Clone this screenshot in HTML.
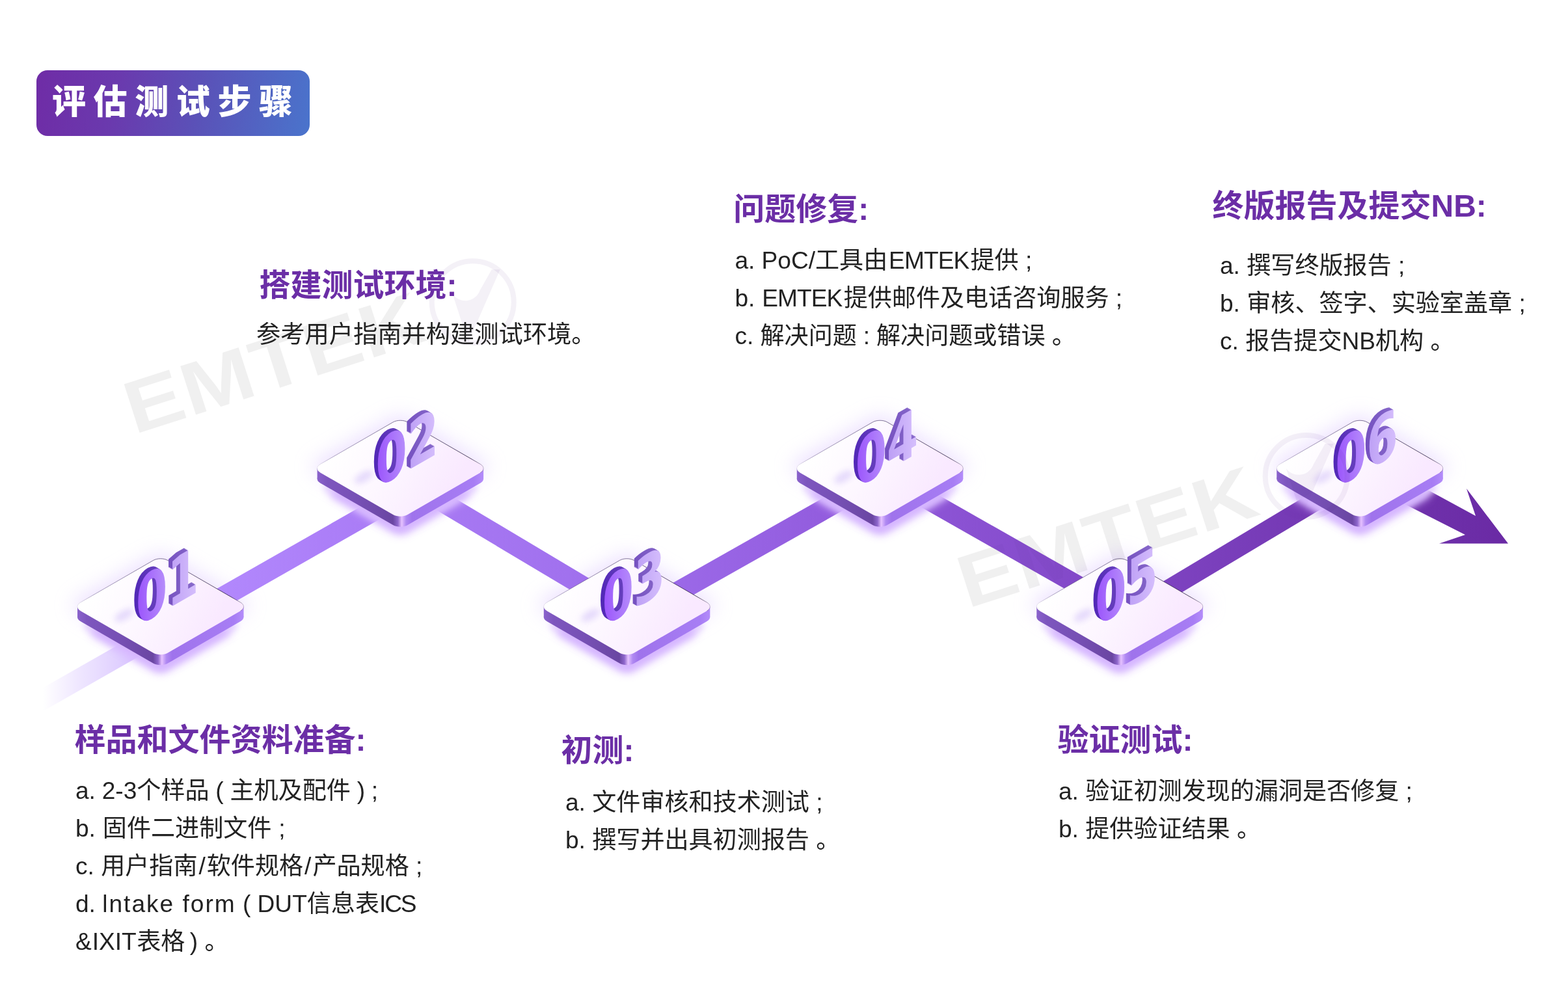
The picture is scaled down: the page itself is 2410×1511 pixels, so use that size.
<!DOCTYPE html>
<html lang="zh-CN"><head><meta charset="utf-8"><title>评估测试步骤</title>
<style>
html,body{margin:0;padding:0;background:#fff;}
body{width:2410px;height:1511px;position:relative;overflow:hidden;font-family:"Liberation Sans", "Noto Sans CJK SC", sans-serif;color:#222;}
.badge{position:absolute;left:56px;top:108px;width:420px;height:101px;border-radius:17px;
 background:linear-gradient(100deg,#6f2ca6 0%,#6a3aae 30%,#5a52b8 60%,#4a74cc 100%);}
.badge span{position:absolute;left:24px;top:-1.5px;line-height:101px;font-size:52px;font-weight:900;color:#fff;letter-spacing:11.6px;white-space:nowrap;}
.h{position:absolute;font-size:48px;line-height:48px;font-weight:700;color:#6b2ea6;white-space:nowrap;}
.t{position:absolute;font-size:37.1px;line-height:37.1px;color:#222;white-space:nowrap;}
.wm{position:absolute;font-family:"Liberation Sans",sans-serif;font-weight:700;font-size:111px;line-height:111px;letter-spacing:3px;color:rgba(90,90,110,0.085);white-space:nowrap;transform-origin:0 100%;transform:rotate(-17deg);}
.wmc{position:absolute;width:112px;height:112px;border-radius:50%;border:11px solid rgba(120,90,170,0.07);}
</style></head>
<body>
<svg width="2410" height="1511" viewBox="0 0 2410 1511" style="position:absolute;left:0;top:0">
<defs>
<linearGradient id="gTail" gradientUnits="userSpaceOnUse" x1="66" y1="0" x2="250" y2="0">
 <stop offset="0" stop-color="#c9adff" stop-opacity="0"/><stop offset="0.3" stop-color="#c9adff" stop-opacity="0.3"/><stop offset="1" stop-color="#bb98ff" stop-opacity="0.75"/>
</linearGradient>
<linearGradient id="gBand" gradientUnits="userSpaceOnUse" x1="250" y1="0" x2="2320" y2="0">
 <stop offset="0" stop-color="#b58dff"/>
 <stop offset="0.12" stop-color="#ac7ff8"/>
 <stop offset="0.30" stop-color="#a171ee"/>
 <stop offset="0.45" stop-color="#9661e2"/>
 <stop offset="0.60" stop-color="#8a51d2"/>
 <stop offset="0.75" stop-color="#7d42c0"/>
 <stop offset="0.88" stop-color="#7236b0"/>
 <stop offset="1" stop-color="#6a2aa4"/>
</linearGradient>
<linearGradient id="gSide" gradientUnits="userSpaceOnUse" x1="-128" y1="0" x2="128" y2="0">
 <stop offset="0" stop-color="#8a62cc"/>
 <stop offset="0.06" stop-color="#7d56be"/>
 <stop offset="0.25" stop-color="#7650b4"/>
 <stop offset="0.455" stop-color="#6a46a2"/>
 <stop offset="0.485" stop-color="#8e66cc"/>
 <stop offset="0.508" stop-color="#e6c2ff"/>
 <stop offset="0.535" stop-color="#b089f2"/>
 <stop offset="0.57" stop-color="#9f73ec"/>
 <stop offset="0.94" stop-color="#a77df4"/>
 <stop offset="1" stop-color="#b48cfa"/>
</linearGradient>
<linearGradient id="gTop" gradientUnits="userSpaceOnUse" x1="-90" y1="-45" x2="70" y2="50">
 <stop offset="0" stop-color="#ffffff"/>
 <stop offset="0.45" stop-color="#fdf7ff"/>
 <stop offset="1" stop-color="#f9e9ff"/>
</linearGradient>
<linearGradient id="gEdge" gradientUnits="userSpaceOnUse" x1="-128" y1="0" x2="128" y2="0">
 <stop offset="0" stop-color="#5a4a80" stop-opacity="0.15"/>
 <stop offset="0.1" stop-color="#5a4a80" stop-opacity="0.6"/>
 <stop offset="0.5" stop-color="#3a2a5a" stop-opacity="0.8"/>
 <stop offset="0.92" stop-color="#1a1030" stop-opacity="0.95"/>
 <stop offset="1" stop-color="#1a1030" stop-opacity="0.3"/>
</linearGradient>
<linearGradient id="gNum" gradientUnits="userSpaceOnUse" x1="0" y1="0" x2="140" y2="0">
 <stop offset="0" stop-color="#9a52fc"/>
 <stop offset="0.42" stop-color="#b387fb"/>
 <stop offset="0.55" stop-color="#bfa2f6"/>
 <stop offset="1" stop-color="#d8c2fd"/>
</linearGradient>
<linearGradient id="gNumSide" gradientUnits="userSpaceOnUse" x1="0" y1="0" x2="140" y2="0">
 <stop offset="0" stop-color="#5026b6"/>
 <stop offset="0.42" stop-color="#6a44be"/>
 <stop offset="0.55" stop-color="#7652c0"/>
 <stop offset="1" stop-color="#8a6ccc"/>
</linearGradient>
<filter id="blur8" x="-50%" y="-50%" width="200%" height="200%"><feGaussianBlur stdDeviation="8"/></filter>
<filter id="blur14" x="-50%" y="-50%" width="200%" height="200%"><feGaussianBlur stdDeviation="14"/></filter>
<filter id="blur5" x="-50%" y="-50%" width="200%" height="200%"><feGaussianBlur stdDeviation="5"/></filter>

<path id="dia" d="M11.26,-71.06 L123.08,-6.50 C129.29,-2.91 129.29,2.91 123.08,6.50 L11.26,71.06 C5.04,74.65 -5.04,74.65 -11.26,71.06 L-123.08,6.50 C-129.29,2.91 -129.29,-2.91 -123.08,-6.50 L-11.26,-71.06 C-5.04,-74.65 5.04,-74.65 11.26,-71.06 Z"/>
<path id="diaTop" d="M-123.08,6.50 C-129.29,2.91 -129.29,-2.91 -123.08,-6.50 L-11.26,-71.06 C-5.04,-74.65 5.04,-74.65 11.26,-71.06 L123.08,-6.50 C129.29,-2.91 129.29,2.91 123.08,6.50"/>
</defs>
<use href="#dia" fill="#dcc6ff" opacity="0.55" filter="url(#blur14)" transform="translate(246.7,930.5) scale(1.06)"/>
<use href="#dia" fill="#dcc6ff" opacity="0.55" filter="url(#blur14)" transform="translate(615.3,718.0) scale(1.06)"/>
<use href="#dia" fill="#dcc6ff" opacity="0.55" filter="url(#blur14)" transform="translate(963.5,930.5) scale(1.06)"/>
<use href="#dia" fill="#dcc6ff" opacity="0.55" filter="url(#blur14)" transform="translate(1352.5,718.0) scale(1.06)"/>
<use href="#dia" fill="#dcc6ff" opacity="0.55" filter="url(#blur14)" transform="translate(1721.0,930.5) scale(1.06)"/>
<use href="#dia" fill="#dcc6ff" opacity="0.55" filter="url(#blur14)" transform="translate(2090.0,718.0) scale(1.06)"/>
<polygon points="66.0,1057.3 250.0,952.4 250.0,988.3 66.0,1093.2" fill="url(#gTail)"/>
<polygon points="250.0,952.4 600.0,752.9 600.0,788.8 250.0,988.3" fill="url(#gBand)"/>
<polygon points="640.0,730.6 950.0,915.4 950.0,950.5 640.0,765.7" fill="url(#gBand)"/>
<polygon points="980.0,926.5 1340.0,723.1 1340.0,759.5 980.0,962.9" fill="url(#gBand)"/>
<polygon points="1370.0,719.8 1710.0,912.9 1710.0,946.7 1370.0,753.6" fill="url(#gBand)"/>
<polygon points="1735.0,925.1 2080.0,718.8 2080.0,752.9 1735.0,959.2" fill="url(#gBand)"/>
<polygon points="2130,718 2268,793 2254,751 2318,835.6 2212,835.6 2252,822 2110,750" fill="url(#gBand)"/>
<g transform="translate(246.7,932.5)">
<use href="#dia" fill="#e6d4ff" opacity="1" filter="url(#blur5)" transform="translate(0,30) scale(0.93)"/>
<use href="#dia" fill="#d4b2ff" opacity="0.95" filter="url(#blur8)" transform="translate(0,40) scale(0.84)"/>
<rect x="-127.7" y="0" width="255.5" height="16.0" fill="url(#gSide)"/>
<use href="#dia" fill="url(#gSide)" transform="translate(0,16.0)"/>
<use href="#dia" fill="url(#gTop)"/>
<use href="#diaTop" fill="none" stroke="url(#gEdge)" stroke-width="0.8"/>
<ellipse cx="-56" cy="11" rx="16" ry="7" fill="#b9a0f5" opacity="0.36" filter="url(#blur5)" transform="rotate(-30 -52 12)"/>
<g transform="translate(-37.7,31.6)">
<text font-family="'DejaVu Sans', 'Liberation Sans', sans-serif" font-weight="bold" font-size="99" transform="matrix(0.7,-0.4041,0,1,-6.06,-3.50)" fill="url(#gNumSide)">01</text>
<text font-family="'DejaVu Sans', 'Liberation Sans', sans-serif" font-weight="bold" font-size="99" transform="matrix(0.7,-0.4041,0,1,-5.20,-3.00)" fill="url(#gNumSide)">01</text>
<text font-family="'DejaVu Sans', 'Liberation Sans', sans-serif" font-weight="bold" font-size="99" transform="matrix(0.7,-0.4041,0,1,-4.33,-2.50)" fill="url(#gNumSide)">01</text>
<text font-family="'DejaVu Sans', 'Liberation Sans', sans-serif" font-weight="bold" font-size="99" transform="matrix(0.7,-0.4041,0,1,-3.46,-2.00)" fill="url(#gNumSide)">01</text>
<text font-family="'DejaVu Sans', 'Liberation Sans', sans-serif" font-weight="bold" font-size="99" transform="matrix(0.7,-0.4041,0,1,-2.60,-1.50)" fill="url(#gNumSide)">01</text>
<text font-family="'DejaVu Sans', 'Liberation Sans', sans-serif" font-weight="bold" font-size="99" transform="matrix(0.7,-0.4041,0,1,-1.73,-1.00)" fill="url(#gNumSide)">01</text>
<text font-family="'DejaVu Sans', 'Liberation Sans', sans-serif" font-weight="bold" font-size="99" transform="matrix(0.7,-0.4041,0,1,-0.87,-0.50)" fill="url(#gNumSide)">01</text>
<text font-family="'DejaVu Sans', 'Liberation Sans', sans-serif" font-weight="bold" font-size="99" transform="matrix(0.7,-0.4041,0,1,0,0)" fill="url(#gNum)">01</text>
</g>
</g>
<g transform="translate(615.3,720.0)">
<use href="#dia" fill="#e6d4ff" opacity="1" filter="url(#blur5)" transform="translate(0,30) scale(0.93)"/>
<use href="#dia" fill="#d4b2ff" opacity="0.95" filter="url(#blur8)" transform="translate(0,40) scale(0.84)"/>
<rect x="-127.7" y="0" width="255.5" height="16.0" fill="url(#gSide)"/>
<use href="#dia" fill="url(#gSide)" transform="translate(0,16.0)"/>
<use href="#dia" fill="url(#gTop)"/>
<use href="#diaTop" fill="none" stroke="url(#gEdge)" stroke-width="0.8"/>
<ellipse cx="-56" cy="11" rx="16" ry="7" fill="#b9a0f5" opacity="0.36" filter="url(#blur5)" transform="rotate(-30 -52 12)"/>
<g transform="translate(-37.7,31.6)">
<text font-family="'DejaVu Sans', 'Liberation Sans', sans-serif" font-weight="bold" font-size="99" transform="matrix(0.7,-0.4041,0,1,-6.06,-3.50)" fill="url(#gNumSide)">02</text>
<text font-family="'DejaVu Sans', 'Liberation Sans', sans-serif" font-weight="bold" font-size="99" transform="matrix(0.7,-0.4041,0,1,-5.20,-3.00)" fill="url(#gNumSide)">02</text>
<text font-family="'DejaVu Sans', 'Liberation Sans', sans-serif" font-weight="bold" font-size="99" transform="matrix(0.7,-0.4041,0,1,-4.33,-2.50)" fill="url(#gNumSide)">02</text>
<text font-family="'DejaVu Sans', 'Liberation Sans', sans-serif" font-weight="bold" font-size="99" transform="matrix(0.7,-0.4041,0,1,-3.46,-2.00)" fill="url(#gNumSide)">02</text>
<text font-family="'DejaVu Sans', 'Liberation Sans', sans-serif" font-weight="bold" font-size="99" transform="matrix(0.7,-0.4041,0,1,-2.60,-1.50)" fill="url(#gNumSide)">02</text>
<text font-family="'DejaVu Sans', 'Liberation Sans', sans-serif" font-weight="bold" font-size="99" transform="matrix(0.7,-0.4041,0,1,-1.73,-1.00)" fill="url(#gNumSide)">02</text>
<text font-family="'DejaVu Sans', 'Liberation Sans', sans-serif" font-weight="bold" font-size="99" transform="matrix(0.7,-0.4041,0,1,-0.87,-0.50)" fill="url(#gNumSide)">02</text>
<text font-family="'DejaVu Sans', 'Liberation Sans', sans-serif" font-weight="bold" font-size="99" transform="matrix(0.7,-0.4041,0,1,0,0)" fill="url(#gNum)">02</text>
</g>
</g>
<g transform="translate(963.5,932.5)">
<use href="#dia" fill="#e6d4ff" opacity="1" filter="url(#blur5)" transform="translate(0,30) scale(0.93)"/>
<use href="#dia" fill="#d4b2ff" opacity="0.95" filter="url(#blur8)" transform="translate(0,40) scale(0.84)"/>
<rect x="-127.7" y="0" width="255.5" height="16.0" fill="url(#gSide)"/>
<use href="#dia" fill="url(#gSide)" transform="translate(0,16.0)"/>
<use href="#dia" fill="url(#gTop)"/>
<use href="#diaTop" fill="none" stroke="url(#gEdge)" stroke-width="0.8"/>
<ellipse cx="-56" cy="11" rx="16" ry="7" fill="#b9a0f5" opacity="0.36" filter="url(#blur5)" transform="rotate(-30 -52 12)"/>
<g transform="translate(-37.7,31.6)">
<text font-family="'DejaVu Sans', 'Liberation Sans', sans-serif" font-weight="bold" font-size="99" transform="matrix(0.7,-0.4041,0,1,-6.06,-3.50)" fill="url(#gNumSide)">03</text>
<text font-family="'DejaVu Sans', 'Liberation Sans', sans-serif" font-weight="bold" font-size="99" transform="matrix(0.7,-0.4041,0,1,-5.20,-3.00)" fill="url(#gNumSide)">03</text>
<text font-family="'DejaVu Sans', 'Liberation Sans', sans-serif" font-weight="bold" font-size="99" transform="matrix(0.7,-0.4041,0,1,-4.33,-2.50)" fill="url(#gNumSide)">03</text>
<text font-family="'DejaVu Sans', 'Liberation Sans', sans-serif" font-weight="bold" font-size="99" transform="matrix(0.7,-0.4041,0,1,-3.46,-2.00)" fill="url(#gNumSide)">03</text>
<text font-family="'DejaVu Sans', 'Liberation Sans', sans-serif" font-weight="bold" font-size="99" transform="matrix(0.7,-0.4041,0,1,-2.60,-1.50)" fill="url(#gNumSide)">03</text>
<text font-family="'DejaVu Sans', 'Liberation Sans', sans-serif" font-weight="bold" font-size="99" transform="matrix(0.7,-0.4041,0,1,-1.73,-1.00)" fill="url(#gNumSide)">03</text>
<text font-family="'DejaVu Sans', 'Liberation Sans', sans-serif" font-weight="bold" font-size="99" transform="matrix(0.7,-0.4041,0,1,-0.87,-0.50)" fill="url(#gNumSide)">03</text>
<text font-family="'DejaVu Sans', 'Liberation Sans', sans-serif" font-weight="bold" font-size="99" transform="matrix(0.7,-0.4041,0,1,0,0)" fill="url(#gNum)">03</text>
</g>
</g>
<g transform="translate(1352.5,720.0)">
<use href="#dia" fill="#e6d4ff" opacity="1" filter="url(#blur5)" transform="translate(0,30) scale(0.93)"/>
<use href="#dia" fill="#d4b2ff" opacity="0.95" filter="url(#blur8)" transform="translate(0,40) scale(0.84)"/>
<rect x="-127.7" y="0" width="255.5" height="16.0" fill="url(#gSide)"/>
<use href="#dia" fill="url(#gSide)" transform="translate(0,16.0)"/>
<use href="#dia" fill="url(#gTop)"/>
<use href="#diaTop" fill="none" stroke="url(#gEdge)" stroke-width="0.8"/>
<ellipse cx="-56" cy="11" rx="16" ry="7" fill="#b9a0f5" opacity="0.36" filter="url(#blur5)" transform="rotate(-30 -52 12)"/>
<g transform="translate(-37.7,31.6)">
<text font-family="'DejaVu Sans', 'Liberation Sans', sans-serif" font-weight="bold" font-size="99" transform="matrix(0.7,-0.4041,0,1,-6.06,-3.50)" fill="url(#gNumSide)">04</text>
<text font-family="'DejaVu Sans', 'Liberation Sans', sans-serif" font-weight="bold" font-size="99" transform="matrix(0.7,-0.4041,0,1,-5.20,-3.00)" fill="url(#gNumSide)">04</text>
<text font-family="'DejaVu Sans', 'Liberation Sans', sans-serif" font-weight="bold" font-size="99" transform="matrix(0.7,-0.4041,0,1,-4.33,-2.50)" fill="url(#gNumSide)">04</text>
<text font-family="'DejaVu Sans', 'Liberation Sans', sans-serif" font-weight="bold" font-size="99" transform="matrix(0.7,-0.4041,0,1,-3.46,-2.00)" fill="url(#gNumSide)">04</text>
<text font-family="'DejaVu Sans', 'Liberation Sans', sans-serif" font-weight="bold" font-size="99" transform="matrix(0.7,-0.4041,0,1,-2.60,-1.50)" fill="url(#gNumSide)">04</text>
<text font-family="'DejaVu Sans', 'Liberation Sans', sans-serif" font-weight="bold" font-size="99" transform="matrix(0.7,-0.4041,0,1,-1.73,-1.00)" fill="url(#gNumSide)">04</text>
<text font-family="'DejaVu Sans', 'Liberation Sans', sans-serif" font-weight="bold" font-size="99" transform="matrix(0.7,-0.4041,0,1,-0.87,-0.50)" fill="url(#gNumSide)">04</text>
<text font-family="'DejaVu Sans', 'Liberation Sans', sans-serif" font-weight="bold" font-size="99" transform="matrix(0.7,-0.4041,0,1,0,0)" fill="url(#gNum)">04</text>
</g>
</g>
<g transform="translate(1721.0,932.5)">
<use href="#dia" fill="#e6d4ff" opacity="1" filter="url(#blur5)" transform="translate(0,30) scale(0.93)"/>
<use href="#dia" fill="#d4b2ff" opacity="0.95" filter="url(#blur8)" transform="translate(0,40) scale(0.84)"/>
<rect x="-127.7" y="0" width="255.5" height="16.0" fill="url(#gSide)"/>
<use href="#dia" fill="url(#gSide)" transform="translate(0,16.0)"/>
<use href="#dia" fill="url(#gTop)"/>
<use href="#diaTop" fill="none" stroke="url(#gEdge)" stroke-width="0.8"/>
<ellipse cx="-56" cy="11" rx="16" ry="7" fill="#b9a0f5" opacity="0.36" filter="url(#blur5)" transform="rotate(-30 -52 12)"/>
<g transform="translate(-37.7,31.6)">
<text font-family="'DejaVu Sans', 'Liberation Sans', sans-serif" font-weight="bold" font-size="99" transform="matrix(0.7,-0.4041,0,1,-6.06,-3.50)" fill="url(#gNumSide)">05</text>
<text font-family="'DejaVu Sans', 'Liberation Sans', sans-serif" font-weight="bold" font-size="99" transform="matrix(0.7,-0.4041,0,1,-5.20,-3.00)" fill="url(#gNumSide)">05</text>
<text font-family="'DejaVu Sans', 'Liberation Sans', sans-serif" font-weight="bold" font-size="99" transform="matrix(0.7,-0.4041,0,1,-4.33,-2.50)" fill="url(#gNumSide)">05</text>
<text font-family="'DejaVu Sans', 'Liberation Sans', sans-serif" font-weight="bold" font-size="99" transform="matrix(0.7,-0.4041,0,1,-3.46,-2.00)" fill="url(#gNumSide)">05</text>
<text font-family="'DejaVu Sans', 'Liberation Sans', sans-serif" font-weight="bold" font-size="99" transform="matrix(0.7,-0.4041,0,1,-2.60,-1.50)" fill="url(#gNumSide)">05</text>
<text font-family="'DejaVu Sans', 'Liberation Sans', sans-serif" font-weight="bold" font-size="99" transform="matrix(0.7,-0.4041,0,1,-1.73,-1.00)" fill="url(#gNumSide)">05</text>
<text font-family="'DejaVu Sans', 'Liberation Sans', sans-serif" font-weight="bold" font-size="99" transform="matrix(0.7,-0.4041,0,1,-0.87,-0.50)" fill="url(#gNumSide)">05</text>
<text font-family="'DejaVu Sans', 'Liberation Sans', sans-serif" font-weight="bold" font-size="99" transform="matrix(0.7,-0.4041,0,1,0,0)" fill="url(#gNum)">05</text>
</g>
</g>
<g transform="translate(2090.0,720.0)">
<use href="#dia" fill="#e6d4ff" opacity="1" filter="url(#blur5)" transform="translate(0,30) scale(0.93)"/>
<use href="#dia" fill="#d4b2ff" opacity="0.95" filter="url(#blur8)" transform="translate(0,40) scale(0.84)"/>
<rect x="-127.7" y="0" width="255.5" height="16.0" fill="url(#gSide)"/>
<use href="#dia" fill="url(#gSide)" transform="translate(0,16.0)"/>
<use href="#dia" fill="url(#gTop)"/>
<use href="#diaTop" fill="none" stroke="url(#gEdge)" stroke-width="0.8"/>
<ellipse cx="-56" cy="11" rx="16" ry="7" fill="#b9a0f5" opacity="0.36" filter="url(#blur5)" transform="rotate(-30 -52 12)"/>
<g transform="translate(-37.7,31.6)">
<text font-family="'DejaVu Sans', 'Liberation Sans', sans-serif" font-weight="bold" font-size="99" transform="matrix(0.7,-0.4041,0,1,-6.06,-3.50)" fill="url(#gNumSide)">06</text>
<text font-family="'DejaVu Sans', 'Liberation Sans', sans-serif" font-weight="bold" font-size="99" transform="matrix(0.7,-0.4041,0,1,-5.20,-3.00)" fill="url(#gNumSide)">06</text>
<text font-family="'DejaVu Sans', 'Liberation Sans', sans-serif" font-weight="bold" font-size="99" transform="matrix(0.7,-0.4041,0,1,-4.33,-2.50)" fill="url(#gNumSide)">06</text>
<text font-family="'DejaVu Sans', 'Liberation Sans', sans-serif" font-weight="bold" font-size="99" transform="matrix(0.7,-0.4041,0,1,-3.46,-2.00)" fill="url(#gNumSide)">06</text>
<text font-family="'DejaVu Sans', 'Liberation Sans', sans-serif" font-weight="bold" font-size="99" transform="matrix(0.7,-0.4041,0,1,-2.60,-1.50)" fill="url(#gNumSide)">06</text>
<text font-family="'DejaVu Sans', 'Liberation Sans', sans-serif" font-weight="bold" font-size="99" transform="matrix(0.7,-0.4041,0,1,-1.73,-1.00)" fill="url(#gNumSide)">06</text>
<text font-family="'DejaVu Sans', 'Liberation Sans', sans-serif" font-weight="bold" font-size="99" transform="matrix(0.7,-0.4041,0,1,-0.87,-0.50)" fill="url(#gNumSide)">06</text>
<text font-family="'DejaVu Sans', 'Liberation Sans', sans-serif" font-weight="bold" font-size="99" transform="matrix(0.7,-0.4041,0,1,0,0)" fill="url(#gNum)">06</text>
</g>
</g>
<mask id="wmMask" maskUnits="userSpaceOnUse" x="0" y="0" width="2410" height="1511">
<rect x="0" y="0" width="2410" height="1511" fill="#fff"/>
<polygon points="250.0,952.4 600.0,752.9 600.0,788.8 250.0,988.3" fill="#000" fill-opacity="0.7"/>
<polygon points="640.0,730.6 950.0,915.4 950.0,950.5 640.0,765.7" fill="#000" fill-opacity="0.7"/>
<polygon points="980.0,926.5 1340.0,723.1 1340.0,759.5 980.0,962.9" fill="#000" fill-opacity="0.7"/>
<polygon points="1370.0,719.8 1710.0,912.9 1710.0,946.7 1370.0,753.6" fill="#000" fill-opacity="0.7"/>
<polygon points="1735.0,925.1 2080.0,718.8 2080.0,752.9 1735.0,959.2" fill="#000" fill-opacity="0.7"/>
<polygon points="2130,718 2268,793 2254,751 2318,835.6 2212,835.6 2252,822 2110,750" fill="#000" fill-opacity="0.7"/>
<use href="#dia" fill="#fff" transform="translate(246.7,932.5)"/>
<use href="#dia" fill="#fff" transform="translate(615.3,720.0)"/>
<use href="#dia" fill="#fff" transform="translate(963.5,932.5)"/>
<use href="#dia" fill="#fff" transform="translate(1352.5,720.0)"/>
<use href="#dia" fill="#fff" transform="translate(1721.0,932.5)"/>
<use href="#dia" fill="#fff" transform="translate(2090.0,720.0)"/>
</mask>
<g mask="url(#wmMask)">
<g fill="#000" fill-opacity="0.06">
<text transform="translate(206.0,668) rotate(-17.8) scale(1.18,1)" font-family="'Liberation Sans', sans-serif" font-weight="bold" font-size="114" letter-spacing="1">EMTEK</text>
</g>
<g transform="translate(726.7,464.3)" fill="#3c1478" fill-opacity="0.06">
<circle r="63" fill="none" stroke="#3c1478" stroke-opacity="0.06" stroke-width="8"/>
<path d="M-31,-12 A24,24 0 0 0 11,-18 L29,-50 L42,-50 L-7,62 Z"/>
</g>
<g fill="#000" fill-opacity="0.06">
<text transform="translate(1487.0,935.6) rotate(-17.8) scale(1.18,1)" font-family="'Liberation Sans', sans-serif" font-weight="bold" font-size="114" letter-spacing="1">EMTEK</text>
</g>
<g transform="translate(2007.7,731.9000000000001)" fill="#3c1478" fill-opacity="0.06">
<circle r="63" fill="none" stroke="#3c1478" stroke-opacity="0.06" stroke-width="8"/>
<path d="M-31,-12 A24,24 0 0 0 11,-18 L29,-50 L42,-50 L-7,62 Z"/>
</g>
</g>
</svg>
<div class="badge"><span>评估测试步骤</span></div>
<div class="h" style="left:114.5px;top:1113.5px">样品和文件资料准备:</div>
<div class="t" style="left:116px;top:1196.5px"><span style="word-spacing:-0.5px">a. 2-3个样品 ( 主机及配件 ) ;</span></div>
<div class="t" style="left:116px;top:1254.5px"><span style="word-spacing:0.6px">b. 固件二进制文件 ;</span></div>
<div class="t" style="left:116px;top:1312.5px">c. 用户指南<span style="margin:0 2px">/</span>软件规格<span style="margin:0 2px">/</span>产品规格 ;</div>
<div class="t" style="left:116px;top:1370.5px">d. <span style="letter-spacing:2.0px">lntake form</span> ( DUT信息表<span style="letter-spacing:-2.2px">ICS</span></div>
<div class="t" style="left:116px;top:1428.5px">&amp;<span style="letter-spacing:-9.3px"> </span>IXIT<span style="letter-spacing:-9.8px"> </span>表格<span style="letter-spacing:-3px"> </span>) 。</div>
<div class="h" style="left:398.5px;top:415.0px">搭建测试环境:</div>
<div class="t" style="left:394px;top:496.1px;font-size:37.25px">参考用户指南并构建测试环境。</div>
<div class="h" style="left:862.5px;top:1129.5px">初测:</div>
<div class="t" style="left:869px;top:1214.5px">a. 文件审核和技术测试 ;</div>
<div class="t" style="left:869px;top:1272.5px">b. 撰写并出具初测报告 。</div>
<div class="h" style="left:1127.3px;top:297.5px">问题修复:</div>
<div class="t" style="left:1129.4px;top:381.5px">a. PoC/工具由<span style="letter-spacing:-0.9px;margin-left:1.8px;margin-right:2.2px">EMTEK</span>提供 ;</div>
<div class="t" style="left:1129.4px;top:439.5px">b. <span style="letter-spacing:-0.9px;margin-left:0.6px;margin-right:2.2px">EMTEK</span>提供邮件及电话咨询服务 ;</div>
<div class="t" style="left:1129.4px;top:497.5px">c. 解决问题<span style="word-spacing:-0.4px"> : </span>解决问题或错误 。</div>
<div class="h" style="left:1625.5px;top:1113.5px">验证测试:</div>
<div class="t" style="left:1627px;top:1197.5px">a. 验证初测发现的漏洞是否修复 ;</div>
<div class="t" style="left:1627px;top:1255.5px">b. 提供验证结果 。</div>
<div class="h" style="left:1863.5px;top:293.0px">终版报告及提交NB:</div>
<div class="t" style="left:1875px;top:389.5px">a. 撰写终版报告 ;</div>
<div class="t" style="left:1875px;top:447.5px">b. 审核、签字、实验室盖章 ;</div>
<div class="t" style="left:1875px;top:505.5px">c. 报告提交NB机构 。</div>
</body></html>
